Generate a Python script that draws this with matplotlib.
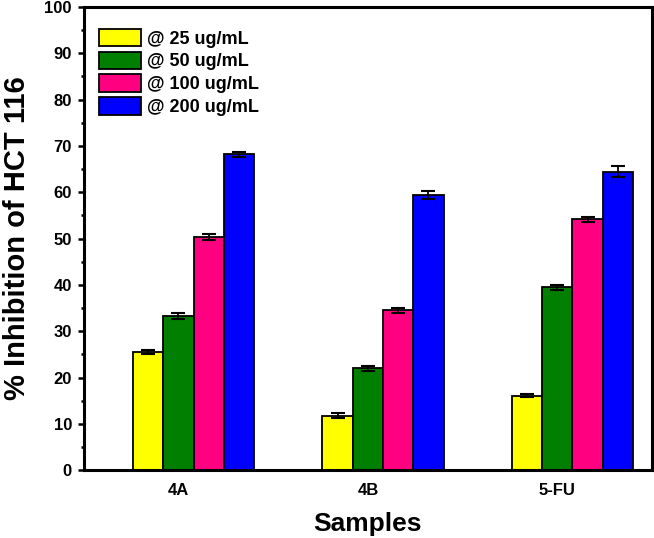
import numpy as np
import matplotlib
matplotlib.use('Agg')
import matplotlib.pyplot as plt
from matplotlib.ticker import MultipleLocator

plt.rcParams['font.family'] = ['Liberation Sans', 'DejaVu Sans']
plt.rcParams['font.weight'] = 'bold'

# Data
samples = ['4A', '4B', '5-FU']
doses = ['@ 25 ug/mL', '@ 50 ug/mL', '@ 100 ug/mL', '@ 200 ug/mL']
inhib_25 = [25.5, 11.8, 16.1]
inhib_50 = [33.3, 22.0, 39.5]
inhib_100 = [50.3, 34.5, 54.2]
inhib_200 = [68.2, 59.5, 64.4]
err_25 = [0.5, 0.6, 0.25]
err_50 = [0.55, 0.55, 0.5]
err_100 = [0.65, 0.5, 0.55]
err_200 = [0.5, 0.85, 1.2]

colors = ['#ffff00', '#007f00', '#ff0080', '#0000ff']
values = [inhib_25, inhib_50, inhib_100, inhib_200]
errors = [err_25, err_50, err_100, err_200]

fig = plt.figure(figsize=(6.54, 5.38), dpi=100)
ax = fig.add_axes([0.128, 0.126, 0.869, 0.861])

x = np.arange(len(samples))
w = 0.16
for k in range(4):
    pos = x + (k - 1) * w
    ax.bar(pos, values[k], width=w, color=colors[k], edgecolor='black',
           linewidth=1.3, label=doses[k], zorder=2)
    ax.errorbar(pos, values[k], yerr=errors[k], fmt='none', ecolor='black',
                elinewidth=1.3, capsize=5, capthick=1.5, zorder=3)

ax.set_xlim(-0.5, 2.5)
ax.set_ylim(0, 100)
ax.set_xticks(x)
ax.set_xticklabels(samples, fontsize=12, fontweight='bold')
ax.yaxis.set_major_locator(MultipleLocator(10))
ax.yaxis.set_minor_locator(MultipleLocator(5))
ax.tick_params(axis='x', length=0, pad=9)
ax.tick_params(axis='y', which='major', direction='out', length=4.5, width=1.8, labelsize=12, pad=4)
ax.tick_params(axis='y', which='minor', direction='out', length=2.5, width=1.8)
for lbl in ax.get_yticklabels():
    lbl.set_fontweight('bold')
for s in ax.spines.values():
    s.set_linewidth(2.2)

ax.set_xlabel('Samples', fontsize=19, fontweight='bold', labelpad=10)
ax.set_ylabel('% Inhibition of HCT 116', fontsize=21, fontweight='bold', labelpad=10)

ax.legend(loc='upper left', bbox_to_anchor=(0.005, 0.98), frameon=False,
          prop={'size': 13, 'weight': 'bold'}, handlelength=2.3, handleheight=1.1,
          labelspacing=0.22, handletextpad=0.35, borderaxespad=0.3)

plt.savefig('out.png', dpi=100)
plt.close()
